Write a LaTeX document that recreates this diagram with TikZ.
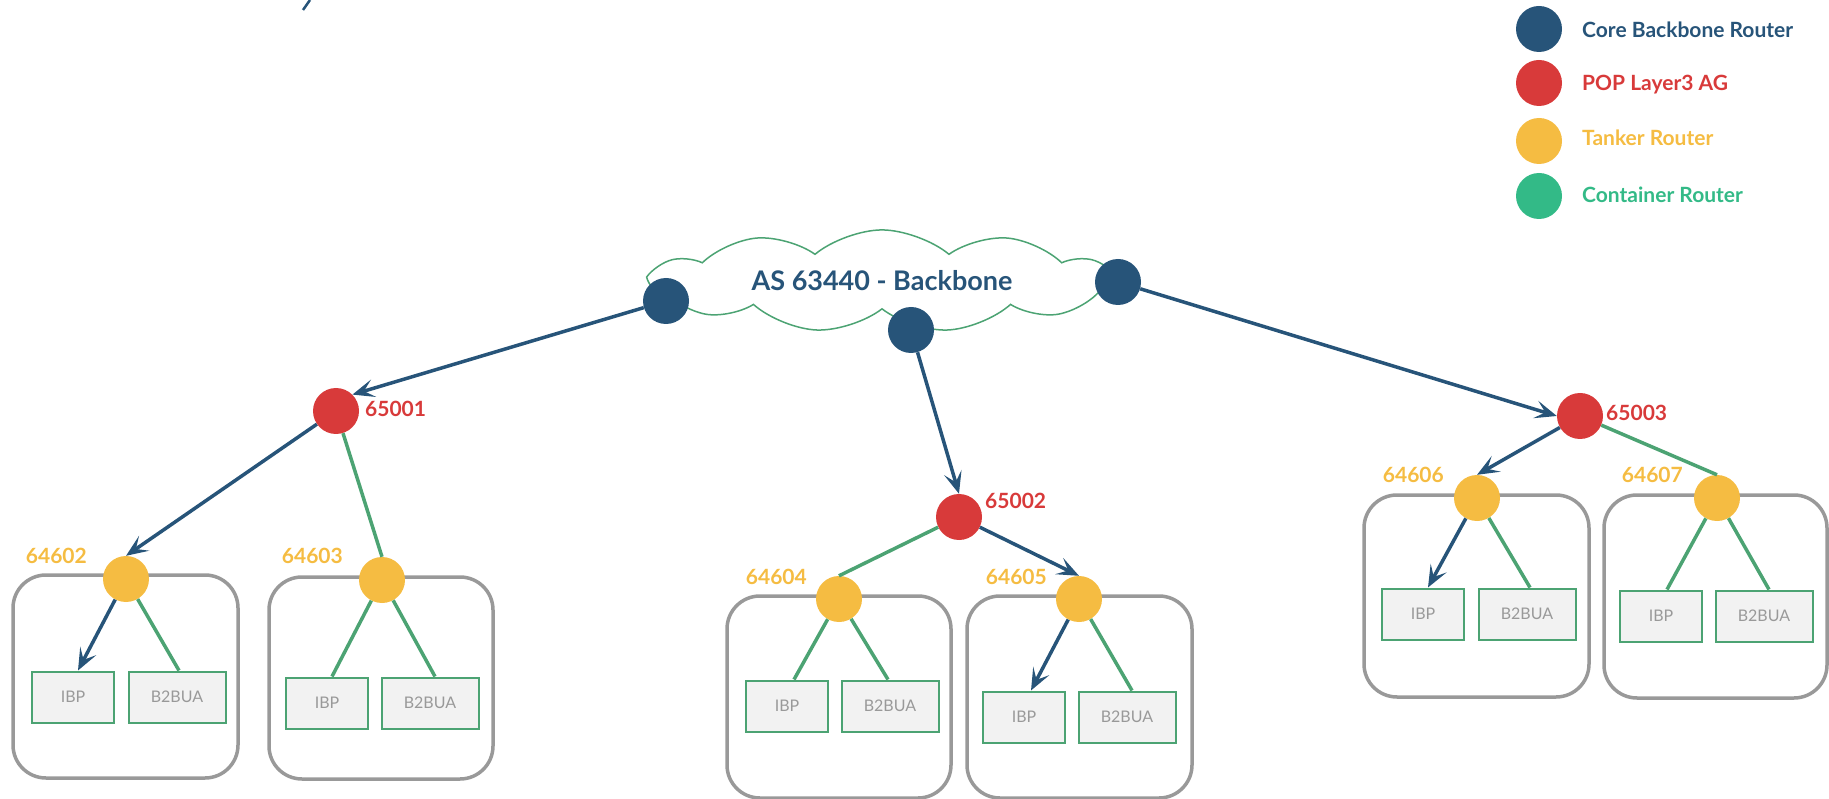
\documentclass[tikz,border=0pt]{standalone}
\usepackage{fontspec}
\setmainfont{Lato}
\usetikzlibrary{arrows.meta,shapes.symbols}

\definecolor{corecol}{RGB}{39,84,121}
\definecolor{popcol}{RGB}{216,58,58}
\definecolor{tankcol}{RGB}{245,188,66}
\definecolor{contcol}{RGB}{51,186,135}
\definecolor{linkcol}{RGB}{76,163,115}
\definecolor{boxcol}{RGB}{153,153,153}
\definecolor{appcol}{RGB}{242,242,242}

\tikzset{
  router/.style={circle, minimum size=46pt, inner sep=0pt},
  core/.style={router, fill=corecol},
  pop/.style={router, fill=popcol},
  tank/.style={router, fill=tankcol},
  cont/.style={router, fill=contcol},
  uplink/.style={draw=corecol, line width=3.5pt, -{Stealth[length=22pt, width=18pt, inset=10pt]}},
  greenlink/.style={draw=linkcol, line width=3.5pt},
  container/.style={draw=boxcol, line width=3.5pt, rounded corners=33pt},
  app/.style={draw=linkcol, line width=2pt, fill=appcol, text=boxcol,
    font=\fontsize{16}{19}\selectfont, minimum height=51pt, inner sep=0pt},
  ibp/.style={app, minimum width=82pt},
  b2bua/.style={app, minimum width=97pt},
  poplabel/.style={text=popcol, font=\fontsize{21}{25}\selectfont\bfseries, anchor=west, inner sep=0pt},
  tanklabel/.style={text=tankcol, font=\fontsize{21}{25}\selectfont\bfseries, anchor=east, inner sep=0pt},
  legtext/.style={font=\fontsize{21}{25}\selectfont\bfseries, anchor=west, inner sep=0pt}
}

\begin{document}
\begin{tikzpicture}[x=1pt, y=-1pt]

        \useasboundingbox (0,0) rectangle (1829,799);

        % clipped stroke at the top edge
        \draw[corecol, line width=2.5pt] (310,0) -- (303,10);

        % legend
        \node[core] (legcore) at (1539,29) {};
        \node[legtext, text=corecol] (legcoretxt) at (1582,30) {Core Backbone Router};
        \node[pop] (legpop) at (1539,83) {};
        \node[legtext, text=popcol] (legpoptxt) at (1582,85) {POP Layer3 AG};
        \node[tank] (legtank) at (1539,141) {};
        \node[legtext, text=tankcol] (legtanktxt) at (1582,138) {Tanker Router};
        \node[cont] (legcont) at (1539,196) {};
        \node[legtext, text=contcol] (legconttxt) at (1582,195) {Container Router};

        % backbone
        \node[cloud, draw=linkcol, line width=1.5pt, cloud puffs=11, cloud puff arc=80,
              aspect=5.5, minimum width=462pt, minimum height=86pt, inner sep=0pt,
              text=corecol, font=\fontsize{27}{32}\selectfont\bfseries] (backbone) at (882,281) {AS 63440 - Backbone};

        \node[core] (bb1) at (666,301) {};
        \node[core] (bb2) at (911,330) {};
        \node[core] (bb3) at (1118,282) {};

        % POP routers
        \node[pop] (pop1) at (336,411) {};
        \node[poplabel] (l65001) at (365,409) {65001};
        \node[pop] (pop2) at (959,517) {};
        \node[poplabel] (l65002) at (985,501) {65002};
        \node[pop] (pop3) at (1580,416) {};
        \node[poplabel] (l65003) at (1606,413) {65003};

        \begin{scope}[shift={(126,579)}]
          \draw[container] (-113,-4) rectangle (112,199);
          \node[tank] (t64602) at (0,0) {};
          \node[tanklabel] (l64602) at (-39,-23) {64602};
          \node[ibp] (ibp1) at (-53,118) {IBP};
          \node[b2bua] (bua1) at (51,118) {B2BUA};
        \end{scope}

        \begin{scope}[shift={(382,580)}]
          \draw[container] (-113,-3) rectangle (111,199);
          \node[tank] (t64603) at (0,0) {};
          \node[tanklabel] (l64603) at (-39,-24) {64603};
          \node[ibp] (ibp2) at (-55,123) {IBP};
          \node[b2bua] (bua2) at (48,123) {B2BUA};
        \end{scope}

        \begin{scope}[shift={(839,599)}]
          \draw[container] (-112,-3) rectangle (112,199);
          \node[tank] (t64604) at (0,0) {};
          \node[tanklabel] (l64604) at (-32,-22) {64604};
          \node[ibp] (ibp3) at (-52,107) {IBP};
          \node[b2bua] (bua3) at (51,107) {B2BUA};
        \end{scope}

        \begin{scope}[shift={(1079,599)}]
          \draw[container] (-112,-3) rectangle (113,199);
          \node[tank] (t64605) at (0,0) {};
          \node[tanklabel] (l64605) at (-32,-22) {64605};
          \node[ibp] (ibp4) at (-55,118) {IBP};
          \node[b2bua] (bua4) at (48,118) {B2BUA};
        \end{scope}

        \begin{scope}[shift={(1477,498)}]
          \draw[container] (-113,-3) rectangle (112,199);
          \node[tank] (t64606) at (0,0) {};
          \node[tanklabel] (l64606) at (-33,-23) {64606};
          \node[ibp] (ibp5) at (-54,116) {IBP};
          \node[b2bua] (bua5) at (50,116) {B2BUA};
        \end{scope}

        \begin{scope}[shift={(1717,498)}]
          \draw[container] (-113,-3) rectangle (110,200);
          \node[tank] (t64607) at (0,0) {};
          \node[tanklabel] (l64607) at (-34,-23) {64607};
          \node[ibp] (ibp6) at (-56,118) {IBP};
          \node[b2bua] (bua6) at (47,118) {B2BUA};
        \end{scope}

        % links from the backbone
        \draw[uplink] (bb1) -- (pop1.north east);
        \draw[uplink] (bb2) -- (pop2.north);
        \draw[uplink] (bb3) -- (pop3.west);

        % links from the POPs
        \draw[uplink] (pop1) -- (t64602.north);
        \draw[greenlink] (pop1) -- (t64603.north);
        \draw[greenlink] (pop2) -- (t64604.north);
        \draw[uplink] (pop2) -- (t64605.north);
        \draw[uplink] (pop3) -- (t64606.north);
        \draw[greenlink] (pop3) -- (t64607.north);

        % links into the containers
        \draw[uplink] (t64602) -- ([xshift=5pt]ibp1.north);
        \draw[greenlink] (t64602) -- ([xshift=2pt]bua1.north);
        \draw[greenlink] (t64603) -- ([xshift=5pt]ibp2.north);
        \draw[greenlink] (t64603) -- ([xshift=5pt]bua2.north);
        \draw[greenlink] (t64604) -- ([xshift=7pt]ibp3.north);
        \draw[greenlink] (t64604) -- ([xshift=-2pt]bua3.north);
        \draw[uplink] (t64605) -- ([xshift=7pt]ibp4.north);
        \draw[greenlink] (t64605) -- ([xshift=5pt]bua4.north);
        \draw[uplink] (t64606) -- ([xshift=5pt]ibp5.north);
        \draw[greenlink] (t64606) -- ([xshift=3pt]bua5.north);
        \draw[greenlink] (t64607) -- ([xshift=6pt]ibp6.north);
        \draw[greenlink] (t64607) -- ([xshift=5pt]bua6.north);

      \end{tikzpicture}
\end{document}
